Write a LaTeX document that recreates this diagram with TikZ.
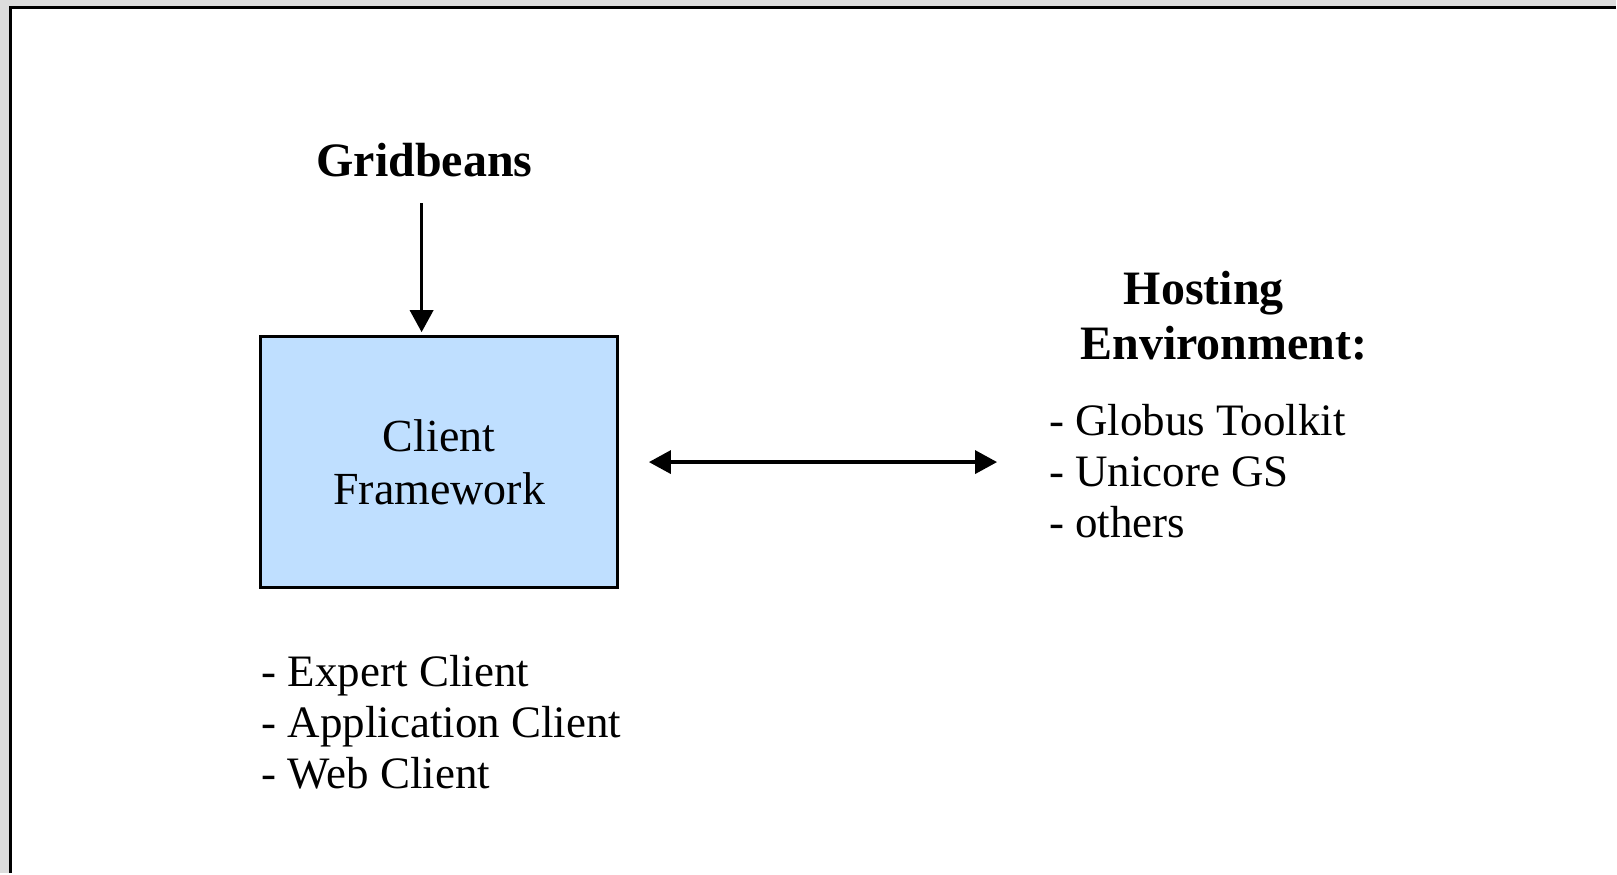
\documentclass[tikz,border=0pt]{standalone}
\usepackage{fontspec}
\setmainfont{Liberation Serif}
\usetikzlibrary{arrows.meta}
\definecolor{boxblue}{RGB}{191,223,255}
\definecolor{bggray}{RGB}{221,221,221}
\begin{document}
\begin{tikzpicture}[x=1pt,y=-1pt,
  every node/.style={inner sep=0pt, outer sep=0pt},
  head/.style={font=\fontsize{48}{55}\selectfont\bfseries, anchor=base},
  lst/.style={font=\fontsize{45}{51}\selectfont, align=left, anchor=base west},
  cbox/.style={draw, line width=3pt, fill=boxblue, minimum width=358pt, minimum height=252pt, align=center, font=\fontsize{46}{53}\selectfont},
  arr/.style={line width=3.5pt, -{Triangle[length=22pt,width=23pt]}},
  darr/.style={line width=3.5pt, {Triangle[length=22pt,width=23pt]}-{Triangle[length=22pt,width=23pt]}}
]
\fill[bggray] (0,0) rectangle (1617,874);
\fill[white] (9,6) rectangle (1617,874);
\draw[line width=3pt] (10.5,874) -- (10.5,7.5) -- (1617,7.5);
\useasboundingbox (0,0) rectangle (1617,874);

\node[cbox] (cf) at (439.5,462.5) {Client\\Framework};
\node[head] (gb) at (425,177) {Gridbeans};
\node[head] (ha) at (1205,305) {Hosting};
\node[head] (hb) at (1225,360) {Environment:};
\node[lst] (hl) at (1050,538) {- Globus Toolkit\\- Unicore GS\\- others};
\node[lst] (cl) at (262,789) {- Expert Client\\- Application Client\\- Web Client};

\draw[arr, shorten <=26pt, shorten >=4pt] ([xshift=-3pt]gb.south) -- ([xshift=-3pt]gb.south |- cf.north);
\draw[darr, shorten <=31pt, shorten >=52pt] (cf.east) -- (cf.east -| hl.west);
\end{tikzpicture}
\end{document}
